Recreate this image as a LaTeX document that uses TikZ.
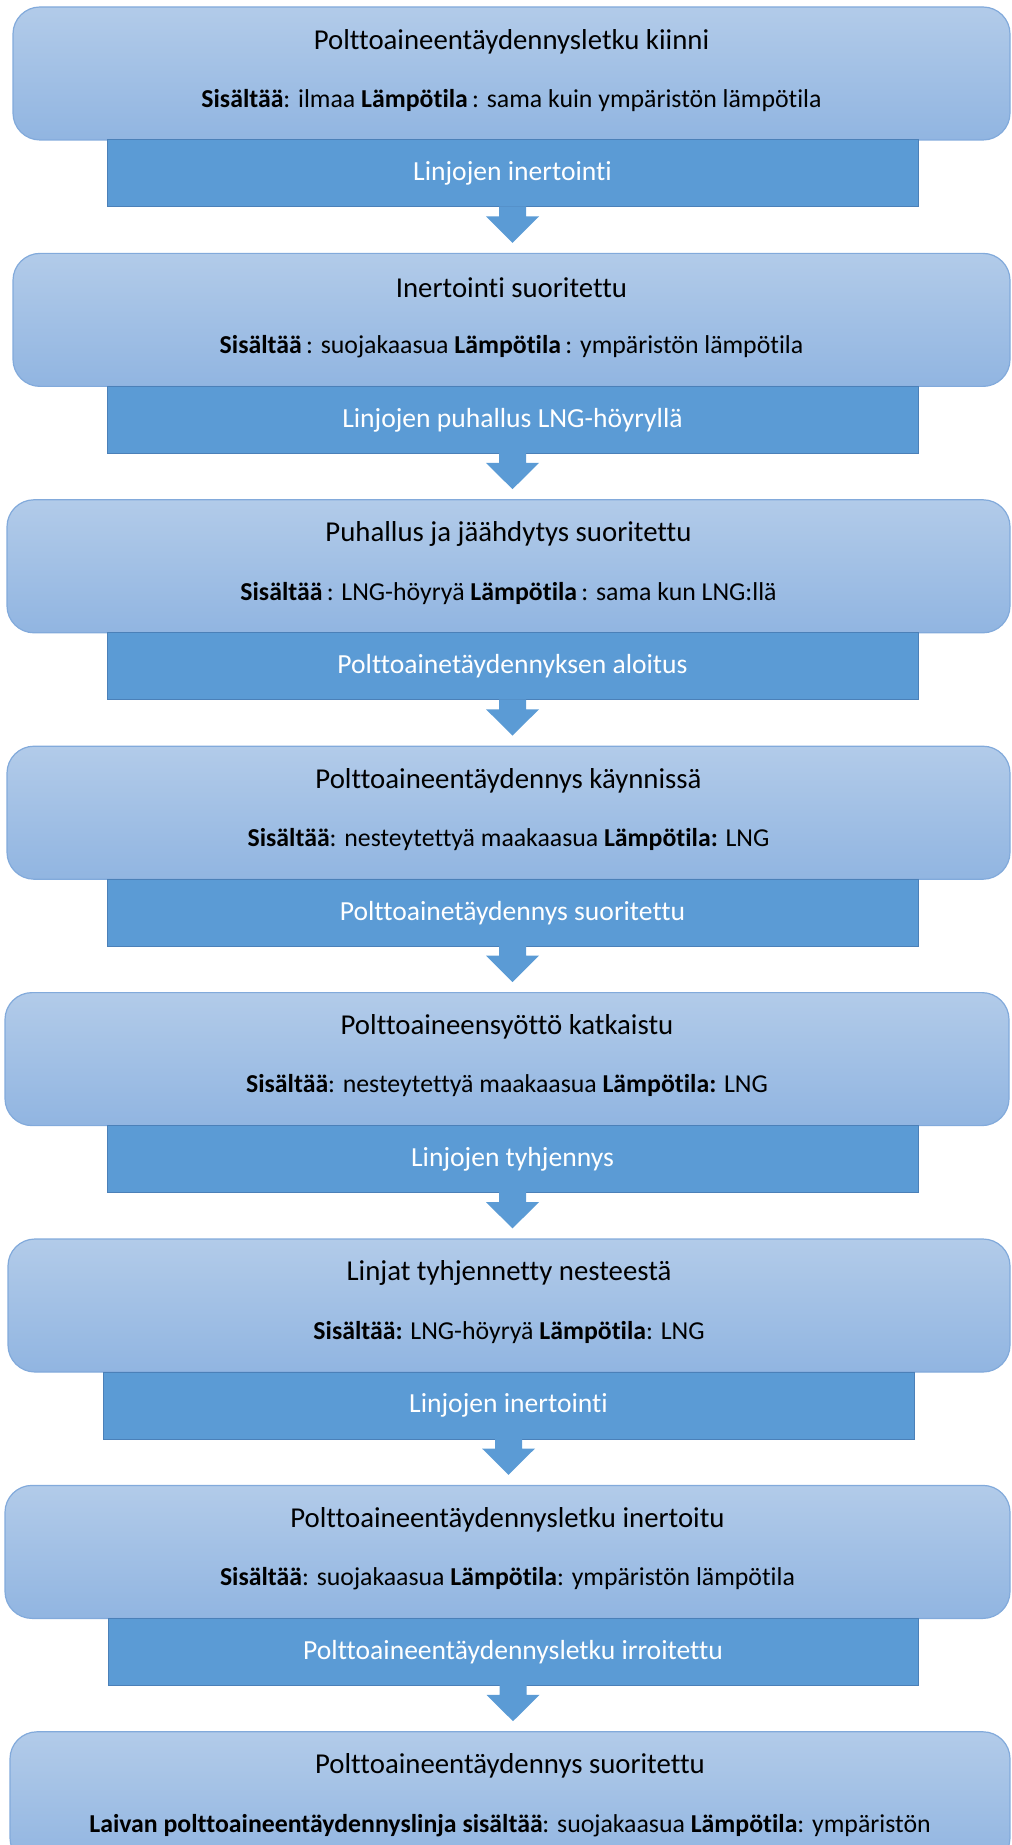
\documentclass[tikz,border=0pt]{standalone}
\usepackage{fontspec}
\setmainfont{Carlito}[Ligatures=NoCommon]
\usetikzlibrary{calc}
\definecolor{boxtop}{HTML}{B2CBE9}
\definecolor{boxbot}{HTML}{91B5E1}
\definecolor{boxline}{HTML}{82AADB}
\definecolor{barfill}{HTML}{5B9BD5}
\definecolor{barline}{HTML}{4B80B8}
\tikzset{
  statebox/.style={rounded corners=13.5pt,top color=boxtop,bottom color=boxbot,draw=boxline,line width=0.6pt,minimum height=66.5pt,inner sep=0pt},
  stepbar/.style={fill=barfill,draw=barline,line width=0.5pt,minimum height=33.5pt,inner sep=0pt,text=white,font=\fontsize{13.8}{16}\selectfont},
  titletext/.style={inner sep=0pt,font=\fontsize{14.4}{17}\selectfont},
  infotext/.style={inner sep=0pt,font=\fontsize{12.9}{15}\selectfont},
  downarrow/.style={fill=barfill}
}

\begin{document}
\begin{tikzpicture}[x=0.5pt,y=-0.5pt]
\useasboundingbox (0,0) rectangle (1011,1845);
\clip (0,0) rectangle (1011,1845);
\foreach \i/\l/\r/\title/\info in {
	1/13/1010/{Polttoaineentäydennysletku kiinni}/{\textbf{Sisältää}: ilmaa \textbf{Lämpötila}\,: sama kuin ympäristön lämpötila},
	2/13/1010/{Inertointi suoritettu}/{\textbf{Sisältää}\,: suojakaasua \textbf{Lämpötila}\,: ympäristön lämpötila},
	3/7/1010/{Puhallus ja jäähdytys suoritettu}/{\textbf{Sisältää}\,: LNG-höyryä \textbf{Lämpötila}\,: sama kun LNG:llä},
	4/7/1010/{Polttoaineentäydennys käynnissä}/{\textbf{Sisältää}: nesteytettyä maakaasua \textbf{Lämpötila:} LNG},
	5/5/1009/{Polttoaineensyöttö katkaistu}/{\textbf{Sisältää}: nesteytettyä maakaasua \textbf{Lämpötila:} LNG},
	6/8/1010/{Linjat tyhjennetty nesteestä}/{\textbf{Sisältää:} LNG-höyryä \textbf{Lämpötila}: LNG},
	7/5/1010/{Polttoaineentäydennysletku inertoitu}/{\textbf{Sisältää}: suojakaasua \textbf{Lämpötila}: ympäristön lämpötila},
	8/10/1010/{Polttoaineentäydennys suoritettu}/{\textbf{Laivan polttoaineentäydennyslinja sisältää}: suojakaasua \textbf{Lämpötila}: ympäristön}} {
		\node[statebox,minimum width={(\r-\l)*0.5pt}] (box\i) at ({(\l+\r)/2},{73.5+246.4*(\i-1)}) {};
		\node[titletext] (title\i) at ($(box\i.north)+(0,35)$) {\title};
		\node[infotext] (info\i) at ($(box\i.north)+(0,94)$) {\info};}
\foreach \i/\l/\r/\step in {
	1/107/918/{Linjojen inertointi},
	2/107/918/{Linjojen puhallus LNG-höyryllä},
	3/107/918/{Polttoainetäydennyksen aloitus},
	4/107/918/{Polttoainetäydennys suoritettu},
	5/107/918/{Linjojen tyhjennys},
	6/103/914/{Linjojen inertointi},
	7/108/918/{Polttoaineentäydennysletku irroitettu}} {
		\node[stepbar,minimum width={(\r-\l)*0.5pt}] (bar\i) at ({(\l+\r)/2},{173.5+246.4*(\i-1)}) {\step};}
\foreach \i in {1,...,7} {
		\pgfmathtruncatemacro{\j}{\i+1}
		\fill[downarrow] ($(bar\i.south)+(-13.5,-1)$) -- ++(0,10) -- ++(-13,0)
			-- ($(bar\i.south |- box\j.north)+(0,-10)$)
			-- ($(bar\i.south)+(26.5,9)$) -- ++(-13,0) -- ++(0,-10) -- cycle;}
\end{tikzpicture}
\end{document}
